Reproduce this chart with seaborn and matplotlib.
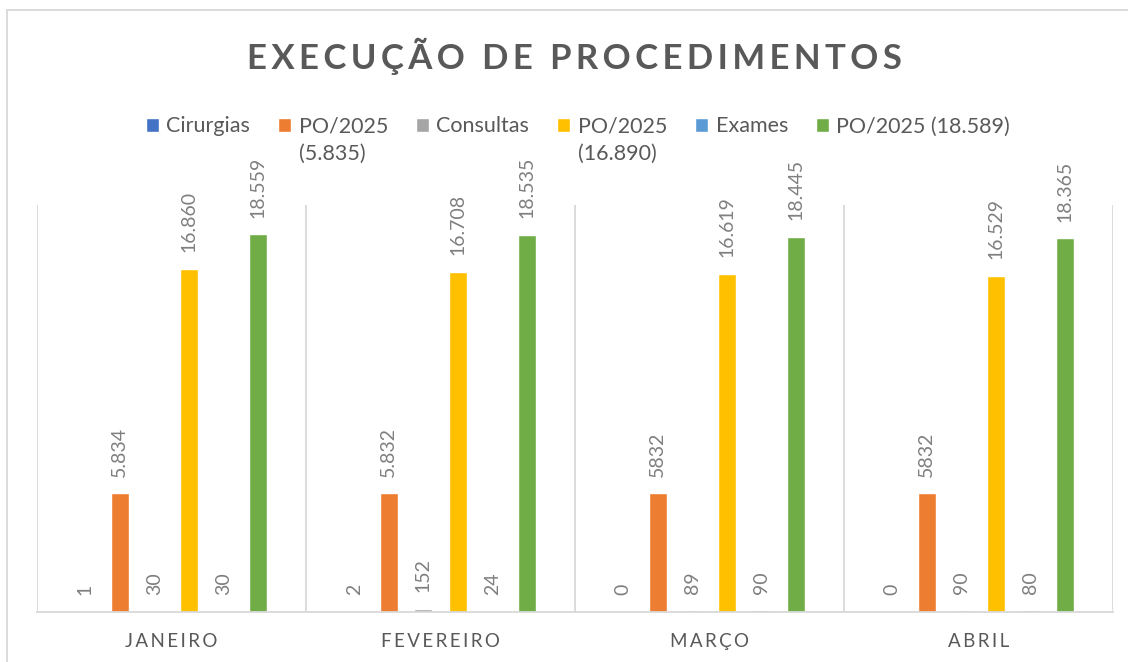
import pandas as pd
import numpy as np
import matplotlib.pyplot as plt
import seaborn as sns
from matplotlib.patches import Rectangle

# Data
meses = ['JANEIRO', 'FEVEREIRO', 'MARÇO', 'ABRIL']
series = ['Cirurgias', 'PO/2025 (5.835)', 'Consultas', 'PO/2025 (16.890)', 'Exames', 'PO/2025 (18.589)']
legend_labels = ['Cirurgias', 'PO/2025\n(5.835)', 'Consultas', 'PO/2025\n(16.890)', 'Exames', 'PO/2025 (18.589)']
colors = ['#4472C4', '#ED7D31', '#A5A5A5', '#FFC000', '#5B9BD5', '#70AD47']

cirurgias = [1, 2, 0, 0]
po_cirurgias = [5834, 5832, 5832, 5832]
consultas = [30, 152, 89, 90]
po_consultas = [16860, 16708, 16619, 16529]
exames = [30, 24, 90, 80]
po_exames = [18559, 18535, 18445, 18365]

# labels as printed in the chart (separator not consistent)
lab_cirurgias = ['1', '2', '0', '0']
lab_po_cirurgias = ['5.834', '5.832', '5832', '5832']
lab_consultas = ['30', '152', '89', '90']
lab_po_consultas = ['16.860', '16.708', '16.619', '16.529']
lab_exames = ['30', '24', '90', '80']
lab_po_exames = ['18.559', '18.535', '18.445', '18.365']

values = [cirurgias, po_cirurgias, consultas, po_consultas, exames, po_exames]
labels = [lab_cirurgias, lab_po_cirurgias, lab_consultas, lab_po_consultas, lab_exames, lab_po_exames]

# Long format table for seaborn
rows = []
for s, vals in zip(series, values):
    for m, v in zip(meses, vals):
        rows.append({'Mes': m, 'Serie': s, 'Valor': v})
df = pd.DataFrame(rows)

sns.set_style('white')
plt.rcParams['font.family'] = ['Lato', 'DejaVu Sans']

fig = plt.figure(figsize=(11.28, 6.62), dpi=100)
ax = fig.add_axes([37 / 1128, 1 - 612 / 662, 1076 / 1128, 407 / 662])

sns.barplot(data=df, x='Mes', y='Valor', hue='Serie', order=meses, hue_order=series,
            palette=colors, saturation=1, width=0.77, gap=0.48, ax=ax, legend=False)

# Data labels, rotated
for cont, lab in zip(ax.containers, labels):
    ax.bar_label(cont, labels=lab, rotation=90, padding=12, color='#7f7f7f', fontsize=14)

ax.set_ylim(0, 20000)
ax.set_xlim(-0.5, 3.5)
ax.set_yticks([])
ax.set_xlabel('')
ax.set_ylabel('')

# letter-spaced month names
ax.set_xticks(range(len(meses)))
ax.set_xticklabels(['\u2009'.join(m) for m in meses], fontsize=13.5, color='#595959')
ax.set_xticks(np.arange(-0.5, 4, 1), minor=True)
ax.tick_params(axis='x', which='both', length=0, pad=15)
ax.grid(which='minor', axis='x', color='#d9d9d9', lw=1.3)
ax.grid(which='major', axis='both', visible=False)

for side in ['left', 'top', 'right']:
    ax.spines[side].set_visible(False)
ax.spines['bottom'].set_color('#d9d9d9')
ax.spines['bottom'].set_linewidth(1.3)

# Title
fig.text(574 / 1128, 1 - 56 / 662, '\u2009'.join('EXECUÇÃO DE PROCEDIMENTOS'),
         ha='center', va='center', fontsize=25, fontweight='bold', color='#595959')

# Legend: two-line labels hang down from the first line, like in Excel
fs = 15.5
leg = fig.legend(ax.containers, legend_labels, loc='upper center', ncol=6,
                 bbox_to_anchor=(578 / 1128, 1 - 97 / 662), frameon=False,
                 fontsize=fs, handlelength=0.6, handleheight=0.6, handletextpad=0.35,
                 columnspacing=1.3, labelcolor='#595959')
half = 0.72 * fs  # half a line pitch, in points
for t in leg.texts:
    t.set_linespacing(1.45)
    if '\n' not in t.get_text():
        t.set_y(half * fig.dpi / 72)
for h in leg.legend_handles:
    h.set_y(h.get_y() + half)

# outer chart frame (only top and left visible in the crop)
fig.patches.append(Rectangle((7 / 1128, -0.2), 1.2, 0.2 + 1 - 9.5 / 662, transform=fig.transFigure,
                             fill=False, ec='#d9d9d9', lw=1.3))

fig.savefig('out.png', dpi=100)
